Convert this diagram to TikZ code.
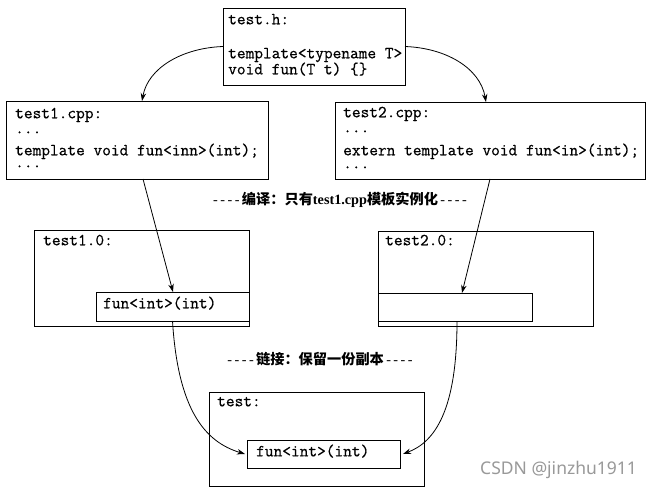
\documentclass[tikz,border=0pt]{standalone}
\usepackage{fontspec}
\setmainfont{Liberation Serif}
\newfontfamily\codefont{Latin Modern Mono}[FakeBold=0.6]
\newfontfamily\cjk{Noto Sans CJK SC}
\newfontfamily\wmfont{Noto Sans}
\newcommand{\dashrow}{{\rmfamily\mdseries -\kern2.5pt-\kern2.5pt-\kern2.5pt-}}
\usetikzlibrary{arrows.meta}
\begin{document}
\begin{tikzpicture}[x=1pt,y=-1pt,
  frame/.style={draw=black, line width=0.9pt, rectangle, inner sep=0pt, outer sep=0pt, anchor=north west},
  code/.style={anchor=mid west, inner sep=0pt, font=\codefont\fontsize{16.9}{18}\selectfont},
  lab/.style={inner sep=0pt, font=\cjk\bfseries\fontsize{14.2}{16}\selectfont},
  link/.style={draw=black, line width=0.8pt, -{Stealth[length=8pt,width=5.5pt]}}]
\useasboundingbox[fill=white] (0,0) rectangle (652,492);
% boxes
\node[frame, minimum width=182pt, minimum height=77pt] (h) at (223,8) {};
\node[frame, minimum width=262pt, minimum height=78pt] (c1) at (6,101) {};
\node[frame, minimum width=310pt, minimum height=77pt] (c2) at (335,102) {};
\node[frame, minimum width=215pt, minimum height=96pt] (o1) at (34,230) {};
\node[frame, minimum width=153pt, minimum height=29pt] (i1) at (96,292) {};
\node[frame, minimum width=215pt, minimum height=95pt] (o2) at (378,231) {};
\node[frame, minimum width=154pt, minimum height=28pt] (i2) at (378,293) {};
\node[frame, minimum width=215pt, minimum height=94pt] (t) at (209,392) {};
\node[frame, minimum width=153pt, minimum height=28pt] (i3) at (247,440) {};
% texts
\node[code] (h1) at (228,22) {test.h:};
\node[code] (h2) at (228,56) {template<typename T>};
\node[code] (h3) at (228,72) {void fun(T t) \{\}};
\node[code] (a1) at (15,116) {test1.cpp:};
\node[code] (a2) at (15,131) {...};
\node[code] (a3) at (15,153) {template void fun<inn>(int);};
\node[code] (a4) at (15,165) {...};
\node[code] (b1) at (343,115) {test2.cpp:};
\node[code] (b2) at (343,130) {...};
\node[code] (b3) at (343,153) {extern template void fun<in>(int);};
\node[code] (b4) at (343,166) {...};
\node[code] (o1t) at (43,243) {test1.0:};
\node[code] (i1t) at (103,306) {fun<int>(int)};
\node[code] (o2t) at (385,243) {test2.0:};
\node[code] (tt) at (217,404) {test:};
\node[code] (i3t) at (256,454) {fun<int>(int)};
% labels
\node[lab] (l1) at (340,200) {\dashrow\,编译：只有{\rmfamily test1.cpp}模板实例化\,\dashrow};
\node[lab] (l2) at (320,359) {\dashrow\,链接：保留一份副本\,\dashrow};
\node[anchor=mid west, inner sep=0pt, text=black!40, font=\wmfont\fontsize{17.5}{19}\selectfont] (wm) at (480,472) {CSDN @jinzhu1911};
% connectors
\draw[link] (h.west) .. controls (182,48) and (148,68) .. ([xshift=5pt]c1.north);
\draw[link] (h.east) .. controls (446,48) and (480,68) .. ([xshift=-4pt]c2.north);
\draw[link] ([xshift=6pt]c1.south) -- ([xshift=0.5pt]i1.north);
\draw[link] (c2.south) -- ([xshift=7pt]i2.north);
\draw[link] (i1.south) .. controls (178,410) and (205,442) .. ([xshift=-2pt]i3.west);
\draw[link] ([xshift=2pt]i2.south) .. controls (457,410) and (435,442) .. ([xshift=3pt]i3.east);
\end{tikzpicture}
\end{document}
